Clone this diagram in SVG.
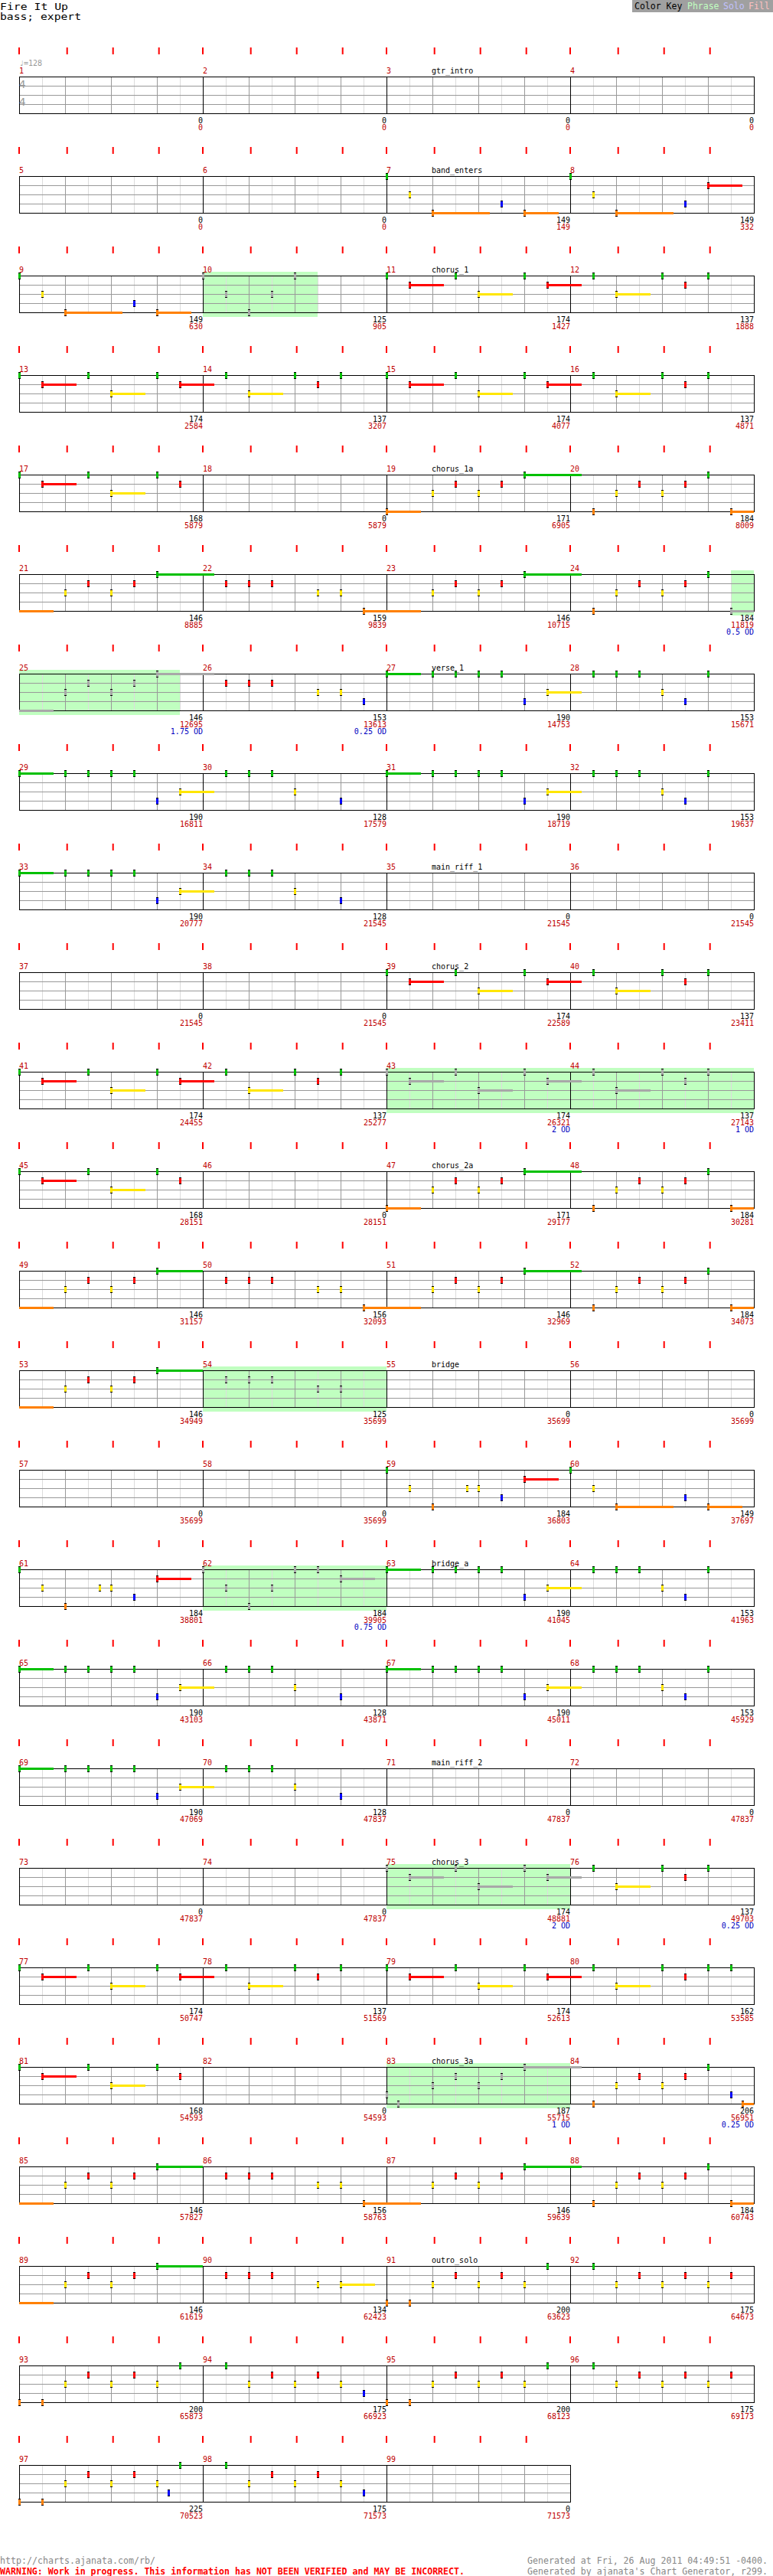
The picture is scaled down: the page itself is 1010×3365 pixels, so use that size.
<svg xmlns="http://www.w3.org/2000/svg" width="1010" height="3365" viewBox="0 0 1010 3365">
<style>
text{font-family:"DejaVu Sans Mono","Liberation Mono",monospace;font-size:10px;fill:#000}
.m{fill:#c00000}
.k{text-anchor:end}
.r{fill:#c00000;text-anchor:end}
.b{fill:#0000c0;text-anchor:end}
.gy{fill:#999}
.ts{font-size:14px}
.sp{fill:#c0ffc0}
.sG,.sR,.sY,.sO,.sX{stroke-width:3;fill:none}
.sG{stroke:#00c000}.sR{stroke:#f00}.sY{stroke:#ffe600}.sO{stroke:#ff8000}.sX{stroke:#a8a8a8}
.hd{font-size:12.5px}
.ft{font-size:11.5px;fill:#888}
.wr{font-size:11.5px;fill:#f00;font-weight:bold}
.ck{font-size:11.5px}
</style>
<defs>
<g id="grid">
<path d="M55.5 0v48M115.5 0v48M175.5 0v48M235.5 0v48M295.5 0v48M355.5 0v48M415.5 0v48M475.5 0v48M535.5 0v48M595.5 0v48M655.5 0v48M715.5 0v48M775.5 0v48M835.5 0v48M895.5 0v48M955.5 0v48" stroke="#dcdcdc"/>
<path d="M85.5 0v48M145.5 0v48M205.5 0v48M325.5 0v48M385.5 0v48M445.5 0v48M565.5 0v48M625.5 0v48M685.5 0v48M805.5 0v48M865.5 0v48M925.5 0v48M25 12.5h960M25 24.5h960M25 36.5h960" stroke="#999"/>
<path d="M265.5 0v48M505.5 0v48M745.5 0v48" stroke="#000"/>
<rect x="25.5" y="0.5" width="960" height="48" fill="none" stroke="#000"/>
</g>
<g id="grid3">
<path d="M55.5 0v48M115.5 0v48M175.5 0v48M235.5 0v48M295.5 0v48M355.5 0v48M415.5 0v48M475.5 0v48M535.5 0v48M595.5 0v48M655.5 0v48M715.5 0v48" stroke="#dcdcdc"/>
<path d="M85.5 0v48M145.5 0v48M205.5 0v48M325.5 0v48M385.5 0v48M445.5 0v48M565.5 0v48M625.5 0v48M685.5 0v48M25 12.5h720M25 24.5h720M25 36.5h720" stroke="#999"/>
<path d="M265.5 0v48M505.5 0v48" stroke="#000"/>
<rect x="25.5" y="0.5" width="720" height="48" fill="none" stroke="#000"/>
</g>
<path id="tk" d="M25 0v9M87.7 0v9M147.7 0v9M207.7 0v9M265 0v9M327.7 0v9M387.7 0v9M447.7 0v9M505 0v9M567.7 0v9M627.7 0v9M687.7 0v9M745 0v9M807.7 0v9M867.7 0v9M927.7 0v9" stroke="#f00" stroke-width="2"/>
<path id="tk3" d="M25 0v9M87.7 0v9M147.7 0v9M207.7 0v9M265 0v9M327.7 0v9M387.7 0v9M447.7 0v9M505 0v9M567.7 0v9M627.7 0v9M687.7 0v9" stroke="#f00" stroke-width="2"/>
<g id="G"><rect x="-1" y="-4" width="3" height="9" fill="#00c000"/><path d="M-1-4h3v1h-3zM-1 4h3v1h-3z"/></g>
<g id="R"><rect x="-1" y="8" width="3" height="9" fill="#f00"/><path d="M-1 8h3v1h-3zM-1 16h3v1h-3z"/></g>
<g id="Y"><rect x="-1" y="20" width="3" height="9" fill="#ffe600"/><path d="M-1 20h3v1h-3zM-1 28h3v1h-3z"/></g>
<g id="B"><rect x="-1" y="32" width="3" height="9" fill="#00f"/><path d="M-1 32h3v1h-3zM-1 40h3v1h-3z"/></g>
<g id="O"><rect x="-1" y="44" width="3" height="9" fill="#ff8000"/><path d="M-1 44h3v1h-3zM-1 52h3v1h-3z"/></g>
<g id="gG"><rect x="-1" y="-4" width="3" height="9" fill="#a8a8a8"/><path d="M-1-4h3v1h-3zM-1 4h3v1h-3z"/></g>
<g id="gR"><rect x="-1" y="8" width="3" height="9" fill="#a8a8a8"/><path d="M-1 8h3v1h-3zM-1 16h3v1h-3z"/></g>
<g id="gY"><rect x="-1" y="20" width="3" height="9" fill="#a8a8a8"/><path d="M-1 20h3v1h-3zM-1 28h3v1h-3z"/></g>
<g id="gB"><rect x="-1" y="32" width="3" height="9" fill="#a8a8a8"/><path d="M-1 32h3v1h-3zM-1 40h3v1h-3z"/></g>
<g id="gO"><rect x="-1" y="44" width="3" height="9" fill="#a8a8a8"/><path d="M-1 44h3v1h-3zM-1 52h3v1h-3z"/></g>
</defs>
<rect width="1010" height="3365" fill="#fff"/>

<g id="header">
<text class="hd" x="0" y="13" textLength="89" lengthAdjust="spacingAndGlyphs">Fire It Up</text>
<text class="hd" x="0" y="26" textLength="106" lengthAdjust="spacingAndGlyphs">bass; expert</text>
<rect x="826" y="0" width="184" height="16" fill="#a0a0a0"/>
<text class="ck" x="829" y="12">Color Key</text>
<text class="ck" x="898" y="12" style="fill:#c0ffc0">Phrase</text>
<text class="ck" x="945" y="12" style="fill:#c0c0ff">Solo</text>
<text class="ck" x="978" y="12" style="fill:#ffc0c0">Fill</text>
</g>

<g id="row1" transform="translate(0,100)">
<use href="#grid"/><use href="#tk" y="-38"/>
<text class="gy" x="25" y="-14">♩=128</text>
<text class="gy ts" x="25" y="15">4</text><text class="gy ts" x="25" y="38">4</text>
<text class="m" x="25" y="-4">1</text><text class="m" x="265" y="-4">2</text><text class="m" x="505" y="-4">3</text><text class="m" x="745" y="-4">4</text>
<text x="564" y="-4">gtr_intro</text>
<text class="k" x="265" y="61">0</text><text class="r" x="265" y="69.5">0</text>
<text class="k" x="505" y="61">0</text><text class="r" x="505" y="69.5">0</text>
<text class="k" x="745" y="61">0</text><text class="r" x="745" y="69.5">0</text>
<text class="k" x="985" y="61">0</text><text class="r" x="985" y="69.5">0</text>
</g>

<g id="row2" transform="translate(0,230)">
<use href="#grid"/><use href="#tk" y="-38"/>
<path class="sO" d="M565 48.5h75M685 48.5h45M805 48.5h75"/><path class="sR" d="M925 12.5h45"/>
<use href="#G" x="505"/><use href="#Y" x="535"/><use href="#O" x="565"/><use href="#B" x="655"/><use href="#O" x="685"/><use href="#G" x="745"/><use href="#Y" x="775"/><use href="#O" x="805"/><use href="#B" x="895"/><use href="#R" x="925"/>
<text class="m" x="25" y="-4">5</text><text class="m" x="265" y="-4">6</text><text class="m" x="505" y="-4">7</text><text class="m" x="745" y="-4">8</text>
<text x="564" y="-4">band_enters</text>
<text class="k" x="265" y="61">0</text><text class="r" x="265" y="69.5">0</text>
<text class="k" x="505" y="61">0</text><text class="r" x="505" y="69.5">0</text>
<text class="k" x="745" y="61">149</text><text class="r" x="745" y="69.5">149</text>
<text class="k" x="985" y="61">149</text><text class="r" x="985" y="69.5">332</text>
</g>

<g id="row3" transform="translate(0,360)">
<rect class="sp" x="265" y="-5" width="150" height="59"/>
<use href="#grid"/><use href="#tk" y="-38"/>
<path class="sO" d="M85 48.5h75M205 48.5h45"/>
<path class="sR" d="M535 12.5h45M715 12.5h45"/><path class="sY" d="M625 24.5h45M805 24.5h45"/>
<use href="#G" x="25"/><use href="#Y" x="55"/><use href="#O" x="85"/><use href="#B" x="175"/><use href="#O" x="205"/>
<use href="#gG" x="265"/><use href="#gY" x="295"/><use href="#gO" x="325"/><use href="#gY" x="355"/><use href="#gG" x="385"/>
<use href="#G" x="505"/><use href="#R" x="535"/><use href="#G" x="595"/><use href="#Y" x="625"/><use href="#G" x="685"/><use href="#R" x="715"/><use href="#G" x="775"/><use href="#Y" x="805"/><use href="#G" x="865"/><use href="#R" x="895"/><use href="#G" x="925"/>
<text class="m" x="25" y="-4">9</text><text class="m" x="265" y="-4">10</text><text class="m" x="505" y="-4">11</text><text class="m" x="745" y="-4">12</text>
<text x="564" y="-4">chorus_1</text>
<text class="k" x="265" y="61">149</text><text class="r" x="265" y="69.5">630</text>
<text class="k" x="505" y="61">125</text><text class="r" x="505" y="69.5">905</text>
<text class="k" x="745" y="61">174</text><text class="r" x="745" y="69.5">1427</text>
<text class="k" x="985" y="61">137</text><text class="r" x="985" y="69.5">1888</text>
</g>

<g id="row4" transform="translate(0,490)">
<use href="#grid"/><use href="#tk" y="-38"/>
<path class="sR" d="M55 12.5h45M235 12.5h45M535 12.5h45M715 12.5h45"/><path class="sY" d="M145 24.5h45M325 24.5h45M625 24.5h45M805 24.5h45"/>
<use href="#G" x="25"/><use href="#R" x="55"/><use href="#G" x="115"/><use href="#Y" x="145"/><use href="#G" x="205"/><use href="#R" x="235"/><use href="#G" x="295"/><use href="#Y" x="325"/><use href="#G" x="385"/><use href="#R" x="415"/><use href="#G" x="445"/>
<use href="#G" x="505"/><use href="#R" x="535"/><use href="#G" x="595"/><use href="#Y" x="625"/><use href="#G" x="685"/><use href="#R" x="715"/><use href="#G" x="775"/><use href="#Y" x="805"/><use href="#G" x="865"/><use href="#R" x="895"/><use href="#G" x="925"/>
<text class="m" x="25" y="-4">13</text><text class="m" x="265" y="-4">14</text><text class="m" x="505" y="-4">15</text><text class="m" x="745" y="-4">16</text>
<text class="k" x="265" y="61">174</text><text class="r" x="265" y="69.5">2584</text>
<text class="k" x="505" y="61">137</text><text class="r" x="505" y="69.5">3207</text>
<text class="k" x="745" y="61">174</text><text class="r" x="745" y="69.5">4077</text>
<text class="k" x="985" y="61">137</text><text class="r" x="985" y="69.5">4871</text>
</g>

<g id="row5" transform="translate(0,620)">
<use href="#grid"/><use href="#tk" y="-38"/>
<path class="sR" d="M55 12.5h45"/><path class="sY" d="M145 24.5h45"/>
<path class="sO" d="M505 48.5h45M955 48.5h30"/><path class="sG" d="M685 0.5h75"/>
<use href="#G" x="25"/><use href="#R" x="55"/><use href="#G" x="115"/><use href="#Y" x="145"/><use href="#G" x="205"/><use href="#R" x="235"/>
<use href="#O" x="505"/><use href="#Y" x="565"/><use href="#R" x="595"/><use href="#Y" x="625"/><use href="#R" x="655"/><use href="#G" x="685"/><use href="#O" x="775"/><use href="#Y" x="805"/><use href="#R" x="835"/><use href="#Y" x="865"/><use href="#R" x="895"/><use href="#G" x="925"/><use href="#O" x="955"/>
<text class="m" x="25" y="-4">17</text><text class="m" x="265" y="-4">18</text><text class="m" x="505" y="-4">19</text><text class="m" x="745" y="-4">20</text>
<text x="564" y="-4">chorus_1a</text>
<text class="k" x="265" y="61">168</text><text class="r" x="265" y="69.5">5879</text>
<text class="k" x="505" y="61">0</text><text class="r" x="505" y="69.5">5879</text>
<text class="k" x="745" y="61">171</text><text class="r" x="745" y="69.5">6905</text>
<text class="k" x="985" y="61">184</text><text class="r" x="985" y="69.5">8009</text>
</g>

<g id="row6" transform="translate(0,750)">
<rect class="sp" x="955" y="-5" width="30" height="59"/>
<use href="#grid"/><use href="#tk" y="-38"/>
<path class="sO" d="M25 48.5h45M475 48.5h75"/><path class="sG" d="M205 0.5h75M685 0.5h75"/><path class="sX" d="M955 48.5h30"/>
<use href="#Y" x="85"/><use href="#R" x="115"/><use href="#Y" x="145"/><use href="#R" x="175"/><use href="#G" x="205"/><use href="#R" x="295"/><use href="#R" x="325"/><use href="#R" x="355"/><use href="#Y" x="415"/><use href="#Y" x="445"/><use href="#O" x="475"/>
<use href="#Y" x="565"/><use href="#R" x="595"/><use href="#Y" x="625"/><use href="#R" x="655"/><use href="#G" x="685"/><use href="#O" x="775"/><use href="#Y" x="805"/><use href="#R" x="835"/><use href="#Y" x="865"/><use href="#R" x="895"/><use href="#G" x="925"/><use href="#gO" x="955"/>
<text class="m" x="25" y="-4">21</text><text class="m" x="265" y="-4">22</text><text class="m" x="505" y="-4">23</text><text class="m" x="745" y="-4">24</text>
<text class="k" x="265" y="61">146</text><text class="r" x="265" y="69.5">8885</text>
<text class="k" x="505" y="61">159</text><text class="r" x="505" y="69.5">9839</text>
<text class="k" x="745" y="61">146</text><text class="r" x="745" y="69.5">10715</text>
<text class="k" x="985" y="61">184</text><text class="r" x="985" y="69.5">11819</text><text class="b" x="985" y="78.5">0.5 OD</text>
</g>

<g id="row7" transform="translate(0,880)">
<rect class="sp" x="25" y="-5" width="210" height="59"/>
<use href="#grid"/><use href="#tk" y="-38"/>
<path class="sX" d="M25 48.5h45M205 0.5h75"/>
<path class="sG" d="M505 0.5h45"/><path class="sY" d="M715 24.5h45"/>
<use href="#gY" x="85"/><use href="#gR" x="115"/><use href="#gY" x="145"/><use href="#gR" x="175"/><use href="#gG" x="205"/>
<use href="#R" x="295"/><use href="#R" x="325"/><use href="#R" x="355"/><use href="#Y" x="415"/><use href="#Y" x="445"/><use href="#B" x="475"/>
<use href="#G" x="505"/><use href="#G" x="565"/><use href="#G" x="595"/><use href="#G" x="625"/><use href="#G" x="655"/><use href="#B" x="685"/><use href="#Y" x="715"/><use href="#G" x="775"/><use href="#G" x="805"/><use href="#G" x="835"/><use href="#Y" x="865"/><use href="#B" x="895"/><use href="#G" x="925"/>
<text class="m" x="25" y="-4">25</text><text class="m" x="265" y="-4">26</text><text class="m" x="505" y="-4">27</text><text class="m" x="745" y="-4">28</text>
<text x="564" y="-4">verse_1</text>
<text class="k" x="265" y="61">146</text><text class="r" x="265" y="69.5">12695</text><text class="b" x="265" y="78.5">1.75 OD</text>
<text class="k" x="505" y="61">153</text><text class="r" x="505" y="69.5">13613</text><text class="b" x="505" y="78.5">0.25 OD</text>
<text class="k" x="745" y="61">190</text><text class="r" x="745" y="69.5">14753</text>
<text class="k" x="985" y="61">153</text><text class="r" x="985" y="69.5">15671</text>
</g>

<g id="row8" transform="translate(0,1010)">
<use href="#grid"/><use href="#tk" y="-38"/>
<path class="sG" d="M25 0.5h45M505 0.5h45"/><path class="sY" d="M235 24.5h45M715 24.5h45"/>
<use href="#G" x="25"/><use href="#G" x="85"/><use href="#G" x="115"/><use href="#G" x="145"/><use href="#G" x="175"/><use href="#B" x="205"/><use href="#Y" x="235"/><use href="#G" x="295"/><use href="#G" x="325"/><use href="#G" x="355"/><use href="#Y" x="385"/><use href="#B" x="445"/>
<use href="#G" x="505"/><use href="#G" x="565"/><use href="#G" x="595"/><use href="#G" x="625"/><use href="#G" x="655"/><use href="#B" x="685"/><use href="#Y" x="715"/><use href="#G" x="775"/><use href="#G" x="805"/><use href="#G" x="835"/><use href="#Y" x="865"/><use href="#B" x="895"/><use href="#G" x="925"/>
<text class="m" x="25" y="-4">29</text><text class="m" x="265" y="-4">30</text><text class="m" x="505" y="-4">31</text><text class="m" x="745" y="-4">32</text>
<text class="k" x="265" y="61">190</text><text class="r" x="265" y="69.5">16811</text>
<text class="k" x="505" y="61">128</text><text class="r" x="505" y="69.5">17579</text>
<text class="k" x="745" y="61">190</text><text class="r" x="745" y="69.5">18719</text>
<text class="k" x="985" y="61">153</text><text class="r" x="985" y="69.5">19637</text>
</g>

<g id="row9" transform="translate(0,1140)">
<use href="#grid"/><use href="#tk" y="-38"/>
<path class="sG" d="M25 0.5h45"/><path class="sY" d="M235 24.5h45"/>
<use href="#G" x="25"/><use href="#G" x="85"/><use href="#G" x="115"/><use href="#G" x="145"/><use href="#G" x="175"/><use href="#B" x="205"/><use href="#Y" x="235"/><use href="#G" x="295"/><use href="#G" x="325"/><use href="#G" x="355"/><use href="#Y" x="385"/><use href="#B" x="445"/>
<text class="m" x="25" y="-4">33</text><text class="m" x="265" y="-4">34</text><text class="m" x="505" y="-4">35</text><text class="m" x="745" y="-4">36</text>
<text x="564" y="-4">main_riff_1</text>
<text class="k" x="265" y="61">190</text><text class="r" x="265" y="69.5">20777</text>
<text class="k" x="505" y="61">128</text><text class="r" x="505" y="69.5">21545</text>
<text class="k" x="745" y="61">0</text><text class="r" x="745" y="69.5">21545</text>
<text class="k" x="985" y="61">0</text><text class="r" x="985" y="69.5">21545</text>
</g>

<g id="row10" transform="translate(0,1270)">
<use href="#grid"/><use href="#tk" y="-38"/>
<path class="sR" d="M535 12.5h45M715 12.5h45"/><path class="sY" d="M625 24.5h45M805 24.5h45"/>
<use href="#G" x="505"/><use href="#R" x="535"/><use href="#G" x="595"/><use href="#Y" x="625"/><use href="#G" x="685"/><use href="#R" x="715"/><use href="#G" x="775"/><use href="#Y" x="805"/><use href="#G" x="865"/><use href="#R" x="895"/><use href="#G" x="925"/>
<text class="m" x="25" y="-4">37</text><text class="m" x="265" y="-4">38</text><text class="m" x="505" y="-4">39</text><text class="m" x="745" y="-4">40</text>
<text x="564" y="-4">chorus_2</text>
<text class="k" x="265" y="61">0</text><text class="r" x="265" y="69.5">21545</text>
<text class="k" x="505" y="61">0</text><text class="r" x="505" y="69.5">21545</text>
<text class="k" x="745" y="61">174</text><text class="r" x="745" y="69.5">22589</text>
<text class="k" x="985" y="61">137</text><text class="r" x="985" y="69.5">23411</text>
</g>

<g id="row11" transform="translate(0,1400)">
<rect class="sp" x="505" y="-5" width="480" height="59"/>
<use href="#grid"/><use href="#tk" y="-38"/>
<path class="sR" d="M55 12.5h45M235 12.5h45"/><path class="sY" d="M145 24.5h45M325 24.5h45"/>
<path class="sX" d="M535 12.5h45M715 12.5h45M625 24.5h45M805 24.5h45"/>
<use href="#G" x="25"/><use href="#R" x="55"/><use href="#G" x="115"/><use href="#Y" x="145"/><use href="#G" x="205"/><use href="#R" x="235"/><use href="#G" x="295"/><use href="#Y" x="325"/><use href="#G" x="385"/><use href="#R" x="415"/><use href="#G" x="445"/>
<use href="#gG" x="505"/><use href="#gR" x="535"/><use href="#gG" x="595"/><use href="#gY" x="625"/><use href="#gG" x="685"/><use href="#gR" x="715"/><use href="#gG" x="775"/><use href="#gY" x="805"/><use href="#gG" x="865"/><use href="#gR" x="895"/><use href="#gG" x="925"/>
<text class="m" x="25" y="-4">41</text><text class="m" x="265" y="-4">42</text><text class="m" x="505" y="-4">43</text><text class="m" x="745" y="-4">44</text>
<text class="k" x="265" y="61">174</text><text class="r" x="265" y="69.5">24455</text>
<text class="k" x="505" y="61">137</text><text class="r" x="505" y="69.5">25277</text>
<text class="k" x="745" y="61">174</text><text class="r" x="745" y="69.5">26321</text><text class="b" x="745" y="78.5">2 OD</text>
<text class="k" x="985" y="61">137</text><text class="r" x="985" y="69.5">27143</text><text class="b" x="985" y="78.5">1 OD</text>
</g>

<g id="row12" transform="translate(0,1530)">
<use href="#grid"/><use href="#tk" y="-38"/>
<path class="sR" d="M55 12.5h45"/><path class="sY" d="M145 24.5h45"/>
<path class="sO" d="M505 48.5h45M955 48.5h30"/><path class="sG" d="M685 0.5h75"/>
<use href="#G" x="25"/><use href="#R" x="55"/><use href="#G" x="115"/><use href="#Y" x="145"/><use href="#G" x="205"/><use href="#R" x="235"/>
<use href="#O" x="505"/><use href="#Y" x="565"/><use href="#R" x="595"/><use href="#Y" x="625"/><use href="#R" x="655"/><use href="#G" x="685"/><use href="#O" x="775"/><use href="#Y" x="805"/><use href="#R" x="835"/><use href="#Y" x="865"/><use href="#R" x="895"/><use href="#G" x="925"/><use href="#O" x="955"/>
<text class="m" x="25" y="-4">45</text><text class="m" x="265" y="-4">46</text><text class="m" x="505" y="-4">47</text><text class="m" x="745" y="-4">48</text>
<text x="564" y="-4">chorus_2a</text>
<text class="k" x="265" y="61">168</text><text class="r" x="265" y="69.5">28151</text>
<text class="k" x="505" y="61">0</text><text class="r" x="505" y="69.5">28151</text>
<text class="k" x="745" y="61">171</text><text class="r" x="745" y="69.5">29177</text>
<text class="k" x="985" y="61">184</text><text class="r" x="985" y="69.5">30281</text>
</g>

<g id="row13" transform="translate(0,1660)">
<use href="#grid"/><use href="#tk" y="-38"/>
<path class="sO" d="M25 48.5h45M475 48.5h75M955 48.5h30"/><path class="sG" d="M205 0.5h60M685 0.5h75"/>
<use href="#Y" x="85"/><use href="#R" x="115"/><use href="#Y" x="145"/><use href="#R" x="175"/><use href="#G" x="205"/><use href="#R" x="295"/><use href="#R" x="325"/><use href="#R" x="355"/><use href="#Y" x="415"/><use href="#Y" x="445"/><use href="#O" x="475"/>
<use href="#Y" x="565"/><use href="#R" x="595"/><use href="#Y" x="625"/><use href="#R" x="655"/><use href="#G" x="685"/><use href="#O" x="775"/><use href="#Y" x="805"/><use href="#R" x="835"/><use href="#Y" x="865"/><use href="#R" x="895"/><use href="#G" x="925"/><use href="#O" x="955"/>
<text class="m" x="25" y="-4">49</text><text class="m" x="265" y="-4">50</text><text class="m" x="505" y="-4">51</text><text class="m" x="745" y="-4">52</text>
<text class="k" x="265" y="61">146</text><text class="r" x="265" y="69.5">31157</text>
<text class="k" x="505" y="61">156</text><text class="r" x="505" y="69.5">32093</text>
<text class="k" x="745" y="61">146</text><text class="r" x="745" y="69.5">32969</text>
<text class="k" x="985" y="61">184</text><text class="r" x="985" y="69.5">34073</text>
</g>

<g id="row14" transform="translate(0,1790)">
<rect class="sp" x="265" y="-5" width="240" height="59"/>
<use href="#grid"/><use href="#tk" y="-38"/>
<path class="sO" d="M25 48.5h45"/><path class="sG" d="M205 0.5h60"/>
<use href="#Y" x="85"/><use href="#R" x="115"/><use href="#Y" x="145"/><use href="#R" x="175"/><use href="#G" x="205"/>
<use href="#gR" x="295"/><use href="#gR" x="325"/><use href="#gR" x="355"/><use href="#gY" x="415"/><use href="#gY" x="445"/>
<text class="m" x="25" y="-4">53</text><text class="m" x="265" y="-4">54</text><text class="m" x="505" y="-4">55</text><text class="m" x="745" y="-4">56</text>
<text x="564" y="-4">bridge</text>
<text class="k" x="265" y="61">146</text><text class="r" x="265" y="69.5">34949</text>
<text class="k" x="505" y="61">125</text><text class="r" x="505" y="69.5">35699</text>
<text class="k" x="745" y="61">0</text><text class="r" x="745" y="69.5">35699</text>
<text class="k" x="985" y="61">0</text><text class="r" x="985" y="69.5">35699</text>
</g>

<g id="row15" transform="translate(0,1920)">
<use href="#grid"/><use href="#tk" y="-38"/>
<path class="sR" d="M685 12.5h45"/><path class="sO" d="M805 48.5h75M925 48.5h45"/>
<use href="#G" x="505"/><use href="#Y" x="535"/><use href="#O" x="565"/><use href="#Y" x="610"/><use href="#Y" x="625"/><use href="#B" x="655"/><use href="#R" x="685"/><use href="#G" x="745"/><use href="#Y" x="775"/><use href="#O" x="805"/><use href="#B" x="895"/><use href="#O" x="925"/>
<text class="m" x="25" y="-4">57</text><text class="m" x="265" y="-4">58</text><text class="m" x="505" y="-4">59</text><text class="m" x="745" y="-4">60</text>
<text class="k" x="265" y="61">0</text><text class="r" x="265" y="69.5">35699</text>
<text class="k" x="505" y="61">0</text><text class="r" x="505" y="69.5">35699</text>
<text class="k" x="745" y="61">184</text><text class="r" x="745" y="69.5">36803</text>
<text class="k" x="985" y="61">149</text><text class="r" x="985" y="69.5">37697</text>
</g>

<g id="row16" transform="translate(0,2050)">
<rect class="sp" x="265" y="-5" width="240" height="59"/>
<use href="#grid"/><use href="#tk" y="-38"/>
<path class="sR" d="M205 12.5h45"/><path class="sX" d="M445 12.5h45"/>
<path class="sG" d="M505 0.5h45"/><path class="sY" d="M715 24.5h45"/>
<use href="#G" x="25"/><use href="#Y" x="55"/><use href="#O" x="85"/><use href="#Y" x="130"/><use href="#Y" x="145"/><use href="#B" x="175"/><use href="#R" x="205"/>
<use href="#gG" x="265"/><use href="#gY" x="295"/><use href="#gO" x="325"/><use href="#gY" x="355"/><use href="#gG" x="385"/><use href="#gG" x="415"/><use href="#gR" x="445"/>
<use href="#G" x="505"/><use href="#G" x="565"/><use href="#G" x="595"/><use href="#G" x="625"/><use href="#G" x="655"/><use href="#B" x="685"/><use href="#Y" x="715"/><use href="#G" x="775"/><use href="#G" x="805"/><use href="#G" x="835"/><use href="#Y" x="865"/><use href="#B" x="895"/><use href="#G" x="925"/>
<text class="m" x="25" y="-4">61</text><text class="m" x="265" y="-4">62</text><text class="m" x="505" y="-4">63</text><text class="m" x="745" y="-4">64</text>
<text x="564" y="-4">bridge_a</text>
<text class="k" x="265" y="61">184</text><text class="r" x="265" y="69.5">38801</text>
<text class="k" x="505" y="61">184</text><text class="r" x="505" y="69.5">39905</text><text class="b" x="505" y="78.5">0.75 OD</text>
<text class="k" x="745" y="61">190</text><text class="r" x="745" y="69.5">41045</text>
<text class="k" x="985" y="61">153</text><text class="r" x="985" y="69.5">41963</text>
</g>

<g id="row17" transform="translate(0,2180)">
<use href="#grid"/><use href="#tk" y="-38"/>
<path class="sG" d="M25 0.5h45M505 0.5h45"/><path class="sY" d="M235 24.5h45M715 24.5h45"/>
<use href="#G" x="25"/><use href="#G" x="85"/><use href="#G" x="115"/><use href="#G" x="145"/><use href="#G" x="175"/><use href="#B" x="205"/><use href="#Y" x="235"/><use href="#G" x="295"/><use href="#G" x="325"/><use href="#G" x="355"/><use href="#Y" x="385"/><use href="#B" x="445"/>
<use href="#G" x="505"/><use href="#G" x="565"/><use href="#G" x="595"/><use href="#G" x="625"/><use href="#G" x="655"/><use href="#B" x="685"/><use href="#Y" x="715"/><use href="#G" x="775"/><use href="#G" x="805"/><use href="#G" x="835"/><use href="#Y" x="865"/><use href="#B" x="895"/><use href="#G" x="925"/>
<text class="m" x="25" y="-4">65</text><text class="m" x="265" y="-4">66</text><text class="m" x="505" y="-4">67</text><text class="m" x="745" y="-4">68</text>
<text class="k" x="265" y="61">190</text><text class="r" x="265" y="69.5">43103</text>
<text class="k" x="505" y="61">128</text><text class="r" x="505" y="69.5">43871</text>
<text class="k" x="745" y="61">190</text><text class="r" x="745" y="69.5">45011</text>
<text class="k" x="985" y="61">153</text><text class="r" x="985" y="69.5">45929</text>
</g>

<g id="row18" transform="translate(0,2310)">
<use href="#grid"/><use href="#tk" y="-38"/>
<path class="sG" d="M25 0.5h45"/><path class="sY" d="M235 24.5h45"/>
<use href="#G" x="25"/><use href="#G" x="85"/><use href="#G" x="115"/><use href="#G" x="145"/><use href="#G" x="175"/><use href="#B" x="205"/><use href="#Y" x="235"/><use href="#G" x="295"/><use href="#G" x="325"/><use href="#G" x="355"/><use href="#Y" x="385"/><use href="#B" x="445"/>
<text class="m" x="25" y="-4">69</text><text class="m" x="265" y="-4">70</text><text class="m" x="505" y="-4">71</text><text class="m" x="745" y="-4">72</text>
<text x="564" y="-4">main_riff_2</text>
<text class="k" x="265" y="61">190</text><text class="r" x="265" y="69.5">47069</text>
<text class="k" x="505" y="61">128</text><text class="r" x="505" y="69.5">47837</text>
<text class="k" x="745" y="61">0</text><text class="r" x="745" y="69.5">47837</text>
<text class="k" x="985" y="61">0</text><text class="r" x="985" y="69.5">47837</text>
</g>

<g id="row19" transform="translate(0,2440)">
<rect class="sp" x="505" y="-5" width="240" height="59"/>
<use href="#grid"/><use href="#tk" y="-38"/>
<path class="sX" d="M535 12.5h45M625 24.5h45M715 12.5h45"/><path class="sY" d="M805 24.5h45"/>
<use href="#gG" x="505"/><use href="#gR" x="535"/><use href="#gG" x="595"/><use href="#gY" x="625"/><use href="#gG" x="685"/><use href="#gR" x="715"/>
<use href="#G" x="775"/><use href="#Y" x="805"/><use href="#G" x="865"/><use href="#R" x="895"/><use href="#G" x="925"/>
<text class="m" x="25" y="-4">73</text><text class="m" x="265" y="-4">74</text><text class="m" x="505" y="-4">75</text><text class="m" x="745" y="-4">76</text>
<text x="564" y="-4">chorus_3</text>
<text class="k" x="265" y="61">0</text><text class="r" x="265" y="69.5">47837</text>
<text class="k" x="505" y="61">0</text><text class="r" x="505" y="69.5">47837</text>
<text class="k" x="745" y="61">174</text><text class="r" x="745" y="69.5">48881</text><text class="b" x="745" y="78.5">2 OD</text>
<text class="k" x="985" y="61">137</text><text class="r" x="985" y="69.5">49703</text><text class="b" x="985" y="78.5">0.25 OD</text>
</g>

<g id="row20" transform="translate(0,2570)">
<use href="#grid"/><use href="#tk" y="-38"/>
<path class="sR" d="M55 12.5h45M235 12.5h45M535 12.5h45M715 12.5h45"/><path class="sY" d="M145 24.5h45M325 24.5h45M625 24.5h45M805 24.5h45"/>
<use href="#G" x="25"/><use href="#R" x="55"/><use href="#G" x="115"/><use href="#Y" x="145"/><use href="#G" x="205"/><use href="#R" x="235"/><use href="#G" x="295"/><use href="#Y" x="325"/><use href="#G" x="385"/><use href="#R" x="415"/><use href="#G" x="445"/>
<use href="#G" x="505"/><use href="#R" x="535"/><use href="#G" x="595"/><use href="#Y" x="625"/><use href="#G" x="685"/><use href="#R" x="715"/><use href="#G" x="775"/><use href="#Y" x="805"/><use href="#G" x="865"/><use href="#R" x="895"/><use href="#G" x="925"/><use href="#G" x="955"/>
<text class="m" x="25" y="-4">77</text><text class="m" x="265" y="-4">78</text><text class="m" x="505" y="-4">79</text><text class="m" x="745" y="-4">80</text>
<text class="k" x="265" y="61">174</text><text class="r" x="265" y="69.5">50747</text>
<text class="k" x="505" y="61">137</text><text class="r" x="505" y="69.5">51569</text>
<text class="k" x="745" y="61">174</text><text class="r" x="745" y="69.5">52613</text>
<text class="k" x="985" y="61">162</text><text class="r" x="985" y="69.5">53585</text>
</g>

<g id="row21" transform="translate(0,2700)">
<rect class="sp" x="505" y="-5" width="240" height="59"/>
<use href="#grid"/><use href="#tk" y="-38"/>
<path class="sR" d="M55 12.5h45"/><path class="sY" d="M145 24.5h45"/>
<path class="sX" d="M685 0.5h75"/><path class="sO" d="M970 48.5h15"/>
<use href="#G" x="25"/><use href="#R" x="55"/><use href="#G" x="115"/><use href="#Y" x="145"/><use href="#G" x="205"/><use href="#R" x="235"/>
<use href="#gB" x="505"/><use href="#gO" x="520"/><use href="#gY" x="565"/><use href="#gR" x="595"/><use href="#gY" x="625"/><use href="#gR" x="655"/><use href="#gG" x="685"/>
<use href="#O" x="775"/><use href="#Y" x="805"/><use href="#R" x="835"/><use href="#Y" x="865"/><use href="#R" x="895"/><use href="#G" x="925"/><use href="#B" x="955"/><use href="#O" x="970"/>
<text class="m" x="25" y="-4">81</text><text class="m" x="265" y="-4">82</text><text class="m" x="505" y="-4">83</text><text class="m" x="745" y="-4">84</text>
<text x="564" y="-4">chorus_3a</text>
<text class="k" x="265" y="61">168</text><text class="r" x="265" y="69.5">54593</text>
<text class="k" x="505" y="61">0</text><text class="r" x="505" y="69.5">54593</text>
<text class="k" x="745" y="61">187</text><text class="r" x="745" y="69.5">55715</text><text class="b" x="745" y="78.5">1 OD</text>
<text class="k" x="985" y="61">206</text><text class="r" x="985" y="69.5">56951</text><text class="b" x="985" y="78.5">0.25 OD</text>
</g>

<g id="row22" transform="translate(0,2830)">
<use href="#grid"/><use href="#tk" y="-38"/>
<path class="sO" d="M25 48.5h45M475 48.5h75M955 48.5h30"/><path class="sG" d="M205 0.5h60M685 0.5h75"/>
<use href="#Y" x="85"/><use href="#R" x="115"/><use href="#Y" x="145"/><use href="#R" x="175"/><use href="#G" x="205"/><use href="#R" x="295"/><use href="#R" x="325"/><use href="#R" x="355"/><use href="#Y" x="415"/><use href="#Y" x="445"/><use href="#O" x="475"/>
<use href="#Y" x="565"/><use href="#R" x="595"/><use href="#Y" x="625"/><use href="#R" x="655"/><use href="#G" x="685"/><use href="#O" x="775"/><use href="#Y" x="805"/><use href="#R" x="835"/><use href="#Y" x="865"/><use href="#R" x="895"/><use href="#G" x="925"/><use href="#O" x="955"/>
<text class="m" x="25" y="-4">85</text><text class="m" x="265" y="-4">86</text><text class="m" x="505" y="-4">87</text><text class="m" x="745" y="-4">88</text>
<text class="k" x="265" y="61">146</text><text class="r" x="265" y="69.5">57827</text>
<text class="k" x="505" y="61">156</text><text class="r" x="505" y="69.5">58763</text>
<text class="k" x="745" y="61">146</text><text class="r" x="745" y="69.5">59639</text>
<text class="k" x="985" y="61">184</text><text class="r" x="985" y="69.5">60743</text>
</g>

<g id="row23" transform="translate(0,2960)">
<use href="#grid"/><use href="#tk" y="-38"/>
<path class="sO" d="M25 48.5h45"/><path class="sG" d="M205 0.5h60"/><path class="sY" d="M445 24.5h45"/>
<use href="#Y" x="85"/><use href="#R" x="115"/><use href="#Y" x="145"/><use href="#R" x="175"/><use href="#G" x="205"/><use href="#R" x="295"/><use href="#R" x="325"/><use href="#R" x="355"/><use href="#Y" x="415"/><use href="#Y" x="445"/>
<use href="#O" x="505"/><use href="#O" x="535"/><use href="#Y" x="565"/><use href="#R" x="595"/><use href="#Y" x="625"/><use href="#R" x="655"/><use href="#Y" x="685"/><use href="#G" x="715"/><use href="#G" x="775"/><use href="#Y" x="805"/><use href="#R" x="835"/><use href="#Y" x="865"/><use href="#R" x="895"/><use href="#Y" x="925"/><use href="#R" x="955"/>
<text class="m" x="25" y="-4">89</text><text class="m" x="265" y="-4">90</text><text class="m" x="505" y="-4">91</text><text class="m" x="745" y="-4">92</text>
<text x="564" y="-4">outro_solo</text>
<text class="k" x="265" y="61">146</text><text class="r" x="265" y="69.5">61619</text>
<text class="k" x="505" y="61">134</text><text class="r" x="505" y="69.5">62423</text>
<text class="k" x="745" y="61">200</text><text class="r" x="745" y="69.5">63623</text>
<text class="k" x="985" y="61">175</text><text class="r" x="985" y="69.5">64673</text>
</g>

<g id="row24" transform="translate(0,3090)">
<use href="#grid"/><use href="#tk" y="-38"/>
<use href="#O" x="25"/><use href="#O" x="55"/><use href="#Y" x="85"/><use href="#R" x="115"/><use href="#Y" x="145"/><use href="#R" x="175"/><use href="#Y" x="205"/><use href="#G" x="235"/><use href="#G" x="295"/><use href="#Y" x="325"/><use href="#R" x="355"/><use href="#Y" x="385"/><use href="#R" x="415"/><use href="#Y" x="445"/><use href="#B" x="475"/>
<use href="#O" x="505"/><use href="#O" x="535"/><use href="#Y" x="565"/><use href="#R" x="595"/><use href="#Y" x="625"/><use href="#R" x="655"/><use href="#Y" x="685"/><use href="#G" x="715"/><use href="#G" x="775"/><use href="#Y" x="805"/><use href="#R" x="835"/><use href="#Y" x="865"/><use href="#R" x="895"/><use href="#Y" x="925"/><use href="#R" x="955"/>
<text class="m" x="25" y="-4">93</text><text class="m" x="265" y="-4">94</text><text class="m" x="505" y="-4">95</text><text class="m" x="745" y="-4">96</text>
<text class="k" x="265" y="61">200</text><text class="r" x="265" y="69.5">65873</text>
<text class="k" x="505" y="61">175</text><text class="r" x="505" y="69.5">66923</text>
<text class="k" x="745" y="61">200</text><text class="r" x="745" y="69.5">68123</text>
<text class="k" x="985" y="61">175</text><text class="r" x="985" y="69.5">69173</text>
</g>

<g id="row25" transform="translate(0,3220)">
<use href="#grid3"/><use href="#tk3" y="-38"/>
<use href="#O" x="25"/><use href="#O" x="55"/><use href="#Y" x="85"/><use href="#R" x="115"/><use href="#Y" x="145"/><use href="#R" x="175"/><use href="#Y" x="205"/><use href="#B" x="220"/><use href="#G" x="235"/><use href="#G" x="295"/><use href="#Y" x="325"/><use href="#R" x="355"/><use href="#Y" x="385"/><use href="#R" x="415"/><use href="#Y" x="445"/><use href="#B" x="475"/>
<text class="m" x="25" y="-4">97</text><text class="m" x="265" y="-4">98</text><text class="m" x="505" y="-4">99</text>
<text class="k" x="265" y="61">225</text><text class="r" x="265" y="69.5">70523</text>
<text class="k" x="505" y="61">175</text><text class="r" x="505" y="69.5">71573</text>
<text class="k" x="745" y="61">0</text><text class="r" x="745" y="69.5">71573</text>
</g>

<g id="footer">
<text class="ft" x="0" y="3349" textLength="203" lengthAdjust="spacingAndGlyphs">http://charts.ajanata.com/rb/</text>
<text class="wr" x="0" y="3363" textLength="607" lengthAdjust="spacingAndGlyphs">WARNING: Work in progress. This information has NOT BEEN VERIFIED and MAY BE INCORRECT.</text>
<text class="ft" x="689" y="3349" textLength="314" lengthAdjust="spacingAndGlyphs">Generated at Fri, 26 Aug 2011 04:49:51 -0400.</text>
<text class="ft" x="689" y="3363" textLength="314" lengthAdjust="spacingAndGlyphs">Generated by ajanata's Chart Generator, r299.</text>
</g>
</svg>
